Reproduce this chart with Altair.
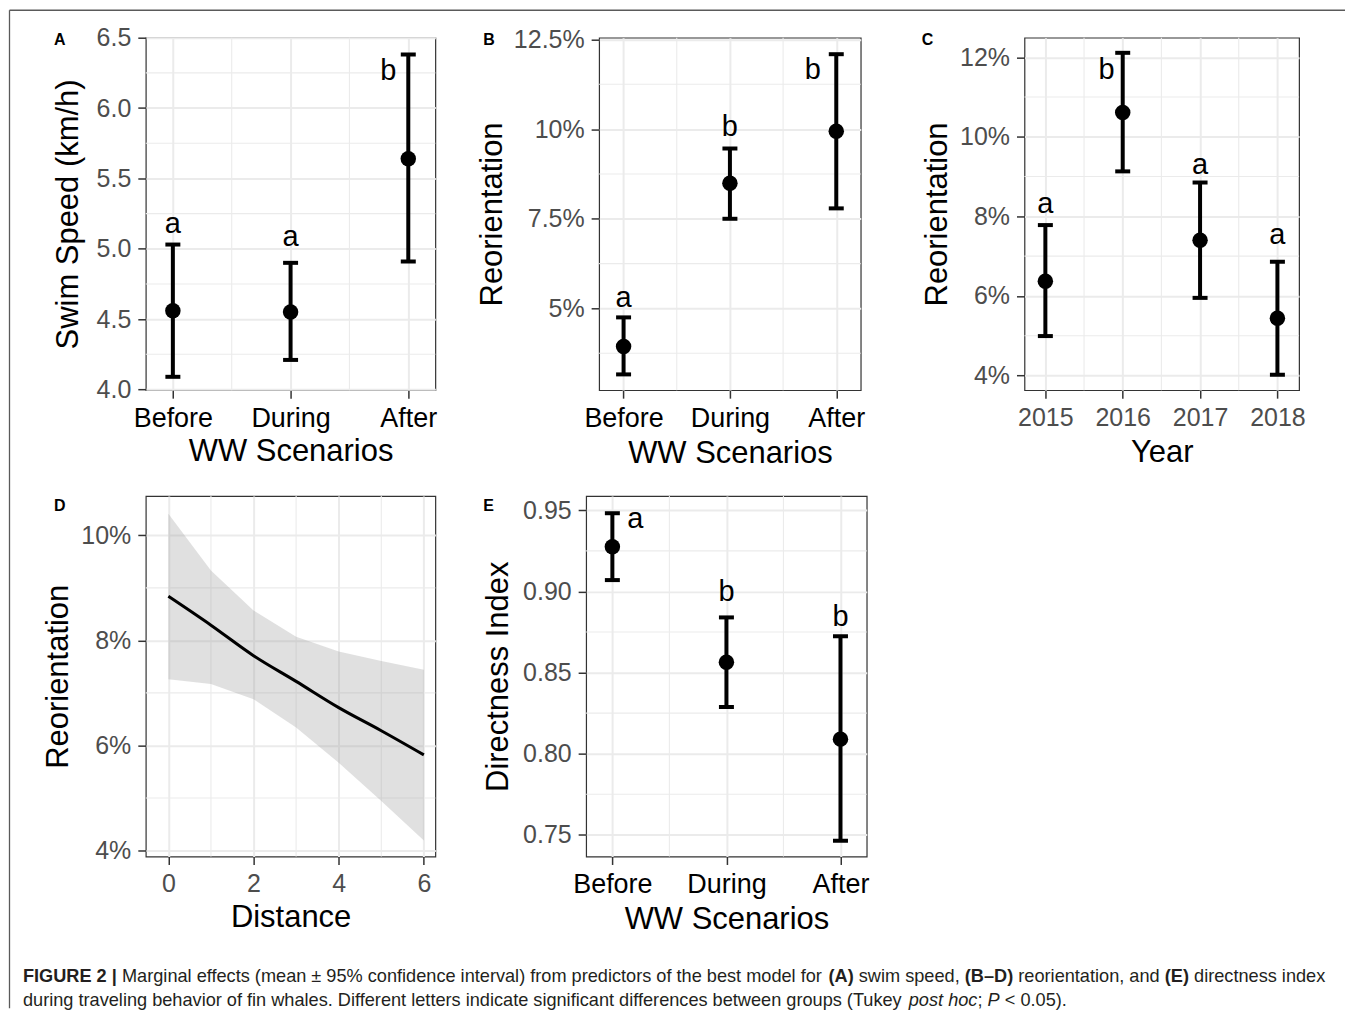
import json
import altair as alt
import pandas as pd

FONT = "Liberation Sans"
GRID = "#EBEBEB"
INK = "#333333"

# ---------------- data ----------------
scenarios = ["Before", "During", "After"]
scenario_pos = [1, 2, 3]

# A: swim speed
speed_mean = [4.56, 4.55, 5.64]
speed_lo = [4.09, 4.21, 4.91]
speed_hi = [5.03, 4.90, 6.38]
speed_letters = ["a", "a", "b"]
speed_letter_x = [1, 2, 2.83]
speed_letter_y = [5.11, 5.02, 6.20]

# B: reorientation by WW scenario
reo_ww_mean = [0.0394, 0.0849, 0.0994]
reo_ww_lo = [0.0316, 0.0750, 0.0779]
reo_ww_hi = [0.0475, 0.0946, 0.1209]
reo_ww_letters = ["a", "b", "b"]
reo_ww_letter_x = [1, 2, 2.78]
reo_ww_letter_y = [0.0503, 0.0981, 0.1139]

# C: reorientation by year
years = [2015, 2016, 2017, 2018]
reo_year_mean = [0.0637, 0.1061, 0.0740, 0.0544]
reo_year_lo = [0.0499, 0.0913, 0.0595, 0.0402]
reo_year_hi = [0.0778, 0.1211, 0.0885, 0.0686]
reo_year_letters = ["a", "b", "a", "a"]
reo_year_letter_x = [2015, 2015.79, 2017, 2018]
reo_year_letter_y = [0.0808, 0.1146, 0.0906, 0.0730]

# D: reorientation vs distance
distance = [0, 1, 2, 3, 4, 5, 6]
reo_dist_mean = [0.0884, 0.0829, 0.0771, 0.0722, 0.0672, 0.0628, 0.0582]
reo_dist_lo = [0.0726, 0.0717, 0.0688, 0.0634, 0.0567, 0.0494, 0.0419]
reo_dist_hi = [0.1041, 0.0933, 0.0857, 0.0807, 0.0779, 0.0761, 0.0744]

# E: directness index
dir_mean = [0.9276, 0.8564, 0.8090]
dir_lo = [0.9070, 0.8288, 0.7464]
dir_hi = [0.9482, 0.8840, 0.8724]
dir_letters = ["a", "b", "b"]
dir_letter_x = [1.2, 2, 3]
dir_letter_y = [0.9393, 0.8943, 0.8785]

# tick values
speed_ticks = [4.0, 4.5, 5.0, 5.5, 6.0, 6.5]
speed_minor = [4.25, 4.75, 5.25, 5.75, 6.25]
reo_ww_ticks = [0.05, 0.075, 0.10, 0.125]
reo_ww_minor = [0.0375, 0.0625, 0.0875, 0.1125]
reo_year_ticks = [0.04, 0.06, 0.08, 0.10, 0.12]
reo_year_minor = [0.05, 0.07, 0.09, 0.11]
reo_dist_ticks = [0.04, 0.06, 0.08, 0.10]
reo_dist_minor = [0.05, 0.07, 0.09]
dist_ticks = [0, 2, 4, 6]
dist_minor = [1, 3, 5]
dir_ticks = [0.75, 0.80, 0.85, 0.90, 0.95]
dir_minor = [0.775, 0.825, 0.875, 0.925]
scenario_minor = [1.5, 2.5]
year_minor = [2015.5, 2016.5, 2017.5]

caption_line1 = [
    ("FIGURE 2 | ", "bold", "normal"),
    ("Marginal effects (mean \u00b1 95% confidence interval) from predictors of the best model for ", "normal", "normal"),
    ("(A)", "bold", "normal"),
    (" swim speed, ", "normal", "normal"),
    ("(B\u2013D)", "bold", "normal"),
    (" reorientation, and ", "normal", "normal"),
    ("(E)", "bold", "normal"),
    (" directness index", "normal", "normal"),
]
caption_line2 = [
    ("during traveling behavior of fin whales. Different letters indicate significant differences between groups (Tukey ", "normal", "normal"),
    ("post hoc", "normal", "italic"),
    ("; ", "normal", "normal"),
    ("P", "normal", "italic"),
    (" < 0.05).", "normal", "normal"),
]

# ---------------- layout ----------------
G_X, G_Y = 145, 36
TOP_H, BOT_H = 353, 361
W_A, W_B, W_C = 290, 262, 275
W_D, W_E = 290, 281
SP_TOP, SP_BOT = 164, 151
ROW_STEP = TOP_H + 106          # nested flush rows count as zero height
CAP_ORIGIN_Y = G_Y + 2 * ROW_STEP

TITLE_FS = 31
CAT_FS = 27
LETTER_FS = 29
TICK_FS = 25

cat_expr = "%s[datum.value - 1]" % json.dumps(scenarios)


def make_enc(channel, domain, values, title, fmt=None, label_expr=None,
             label_color="#4D4D4D", label_size=TICK_FS, title_pad=9, label_pad=7):
    kw = dict(values=values, title=title, labelColor=label_color,
              labelFontSize=label_size, titlePadding=title_pad,
              labelPadding=label_pad, labelFlush=False, labelOverlap=False)
    if fmt:
        kw["format"] = fmt
    if label_expr:
        kw["labelExpr"] = label_expr
    scale = alt.Scale(domain=domain, nice=False, zero=False)
    axis = alt.Axis(**kw)
    if channel == "x":
        return lambda f: alt.X(f + ":Q", scale=scale, axis=axis)
    return lambda f: alt.Y(f + ":Q", scale=scale, axis=axis)


def tag_layer(tag, dx, dy):
    return alt.Chart(pd.DataFrame({"t": [tag]})).mark_text(
        font=FONT, fontSize=16, fontWeight="bold", align="left",
        baseline="alphabetic", color="black"
    ).encode(x=alt.value(dx), y=alt.value(dy), text="t:N")


def grid_layers(X, Y, xminor, yminor):
    vx = alt.Chart(pd.DataFrame({"v": xminor})).mark_rule(
        color=GRID, strokeWidth=1.1).encode(x=X("v"))
    vy = alt.Chart(pd.DataFrame({"v": yminor})).mark_rule(
        color=GRID, strokeWidth=1.1).encode(y=Y("v"))
    return [vx, vy]


def errbar_panel(xs, mean, lo, hi, letters, lx, ly, X, Y, xminor, yminor,
                 w, h, tag, tag_dx, tag_dy):
    df = pd.DataFrame({"x": xs, "mean": mean, "lo": lo, "hi": hi})
    ldf = pd.DataFrame({"x": lx, "y": ly, "letter": letters})
    base = alt.Chart(df)
    rule = base.mark_rule(color="black", strokeWidth=4).encode(
        x=X("x"), y=Y("lo"), y2=alt.Y2("hi"))
    cap_lo = base.mark_tick(orient="horizontal", size=15, thickness=4,
                            color="black", opacity=1).encode(x=X("x"), y=Y("lo"))
    cap_hi = base.mark_tick(orient="horizontal", size=15, thickness=4,
                            color="black", opacity=1).encode(x=X("x"), y=Y("hi"))
    pts = base.mark_circle(size=240, color="black", opacity=1).encode(
        x=X("x"), y=Y("mean"))
    lett = alt.Chart(ldf).mark_text(
        font=FONT, fontSize=LETTER_FS, color="black", align="center",
        baseline="alphabetic").encode(x=X("x"), y=Y("y"), text="letter:N")
    layers = grid_layers(X, Y, xminor, yminor) + [rule, cap_lo, cap_hi, pts, lett,
                                                  tag_layer(tag, tag_dx, tag_dy)]
    return alt.layer(*layers).properties(width=w, height=h)


# Panel A
XA = make_enc("x", [0.77, 3.23], scenario_pos, "WW Scenarios", label_expr=cat_expr,
              label_color="black", label_size=CAT_FS, title_pad=5, label_pad=7)
YA = make_enc("y", [3.995, 6.5], speed_ticks, "Swim Speed (km/h)", fmt=".1f",
              title_pad=12)
panel_a = errbar_panel(scenario_pos, speed_mean, speed_lo, speed_hi, speed_letters,
                       speed_letter_x, speed_letter_y, XA, YA, scenario_minor,
                       speed_minor, W_A, TOP_H, "A", -92, 7)

# Panel B
XB = make_enc("x", [0.77, 3.23], scenario_pos, "WW Scenarios", label_expr=cat_expr,
              label_color="black", label_size=CAT_FS, title_pad=7)
YB = make_enc("y", [0.0272, 0.1255], reo_ww_ticks, "Reorientation", fmt=".1~%",
              title_pad=5)
panel_b = errbar_panel(scenario_pos, reo_ww_mean, reo_ww_lo, reo_ww_hi, reo_ww_letters,
                       reo_ww_letter_x, reo_ww_letter_y, XB, YB, scenario_minor,
                       reo_ww_minor, W_B, TOP_H, "B", -116, 7)

# Panel C
XC = make_enc("x", [2014.73, 2018.28], years, "Year", fmt="d", title_pad=7)
YC = make_enc("y", [0.0363, 0.1249], reo_year_ticks, "Reorientation", fmt=".0%",
              title_pad=6)
panel_c = errbar_panel(years, reo_year_mean, reo_year_lo, reo_year_hi, reo_year_letters,
                       reo_year_letter_x, reo_year_letter_y, XC, YC, year_minor,
                       reo_year_minor, W_C, TOP_H, "C", -103, 7)

# Panel D
XD = make_enc("x", [-0.53, 6.27], dist_ticks, "Distance", fmt="d", title_pad=6)
YD = make_enc("y", [0.03885, 0.1075], reo_dist_ticks, "Reorientation", fmt=".0%",
              title_pad=6)
ddf = pd.DataFrame({"x": distance, "mean": reo_dist_mean, "lo": reo_dist_lo,
                    "hi": reo_dist_hi})
band = alt.Chart(ddf).mark_area(color="#999999", opacity=0.3).encode(
    x=XD("x"), y=YD("lo"), y2=alt.Y2("hi"))
curve = alt.Chart(ddf).mark_line(color="black", strokeWidth=3,
                                 interpolate="monotone").encode(x=XD("x"), y=YD("mean"))
panel_d = alt.layer(*grid_layers(XD, YD, dist_minor, reo_dist_minor),
                    band, curve, tag_layer("D", -92, 15)).properties(
    width=W_D, height=BOT_H)

# Panel E
XE = make_enc("x", [0.77, 3.23], scenario_pos, "WW Scenarios", label_expr=cat_expr,
              label_color="black", label_size=CAT_FS, title_pad=7)
YE = make_enc("y", [0.7367, 0.9588], dir_ticks, "Directness Index", fmt=".2f",
              title_pad=8)
panel_e = errbar_panel(scenario_pos, dir_mean, dir_lo, dir_hi, dir_letters,
                       dir_letter_x, dir_letter_y, XE, YE, scenario_minor,
                       dir_minor, W_E, BOT_H, "E", -103, 15)

# ---------------- caption + frame ----------------
REG = {" ": 278, "(": 333, ")": 333, "\u00b1": 584, "%": 889, ",": 278, ".": 278,
       ";": 278, "<": 584, "M": 833, "D": 722, "T": 611, "P": 667,
       "a": 556, "b": 556, "c": 500, "d": 556, "e": 556, "f": 278, "g": 556,
       "h": 556, "i": 222, "j": 222, "k": 500, "l": 222, "m": 833, "n": 556,
       "o": 556, "p": 556, "q": 556, "r": 333, "s": 500, "t": 278, "u": 556,
       "v": 500, "w": 722, "x": 500, "y": 500, "z": 500}
BOLD = {" ": 278, "(": 333, ")": 333, "|": 280, "\u2013": 556, "2": 556,
        "A": 722, "B": 722, "D": 722, "E": 667, "F": 611, "G": 778, "I": 278,
        "R": 722, "U": 722}
CAP_FS = 18.2


def seg_width(s, weight):
    table = BOLD if weight == "bold" else REG
    return sum(table.get(ch, 556) for ch in s) * CAP_FS / 1000.0


caption_layers = []
for segs, base_y in ((caption_line1, 982), (caption_line2, 1006)):
    cx = 22 - G_X
    for text, weight, style in segs:
        lead = len(text) - len(text.lstrip(" "))
        stripped = text.strip(" ")
        x0 = cx + seg_width(" " * lead, weight)
        caption_layers.append(
            alt.Chart(pd.DataFrame({"t": [stripped]})).mark_text(
                font=FONT, fontSize=CAP_FS, fontWeight=weight, fontStyle=style,
                align="left", baseline="alphabetic", color="#231F20"
            ).encode(x=alt.value(x0), y=alt.value(base_y - CAP_ORIGIN_Y), text="t:N"))
        cx += seg_width(text, weight)

one = pd.DataFrame({"k": [0]})
frame_top = alt.Chart(one).mark_rule(color="#5A5A5A", strokeWidth=1.3).encode(
    x=alt.value(8.5 - G_X), x2=alt.value(1346 - G_X), y=alt.value(8.5 - CAP_ORIGIN_Y))
frame_left = alt.Chart(one).mark_rule(color="#5A5A5A", strokeWidth=1.3).encode(
    x=alt.value(8.5 - G_X), y=alt.value(8.5 - CAP_ORIGIN_Y), y2=alt.value(1008 - CAP_ORIGIN_Y))

caption = alt.layer(frame_top, frame_left, *caption_layers).properties(
    width=W_A + SP_TOP + W_B + SP_TOP + W_C, height=30,
    view=alt.ViewBackground(stroke="transparent"))

top = alt.hconcat(panel_a, panel_b, panel_c, spacing=SP_TOP, bounds="flush")
bottom = alt.hconcat(panel_d, panel_e, spacing=SP_BOT, bounds="flush")

chart = alt.vconcat(top, bottom, caption, spacing=ROW_STEP, bounds="flush").properties(
    padding=0, background="white"
).configure_view(
    stroke=INK, strokeWidth=1.2
).configure_axis(
    labelFont=FONT, titleFont=FONT, labelFontSize=TICK_FS, titleFontSize=TITLE_FS,
    titleFontWeight="normal", labelColor="#4D4D4D", titleColor="black",
    tickColor=INK, tickWidth=1.5, tickSize=8, domain=False,
    gridColor=GRID, gridWidth=2
)

chart.save("out.html", embed_options={"renderer": "svg", "actions": False})
